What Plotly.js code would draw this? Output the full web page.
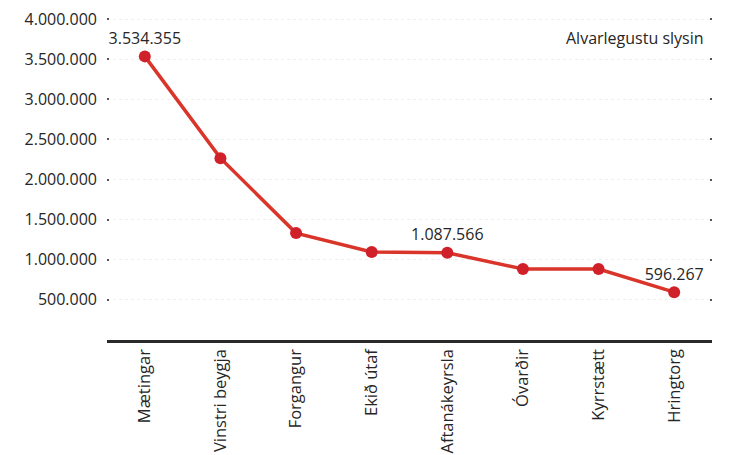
<!DOCTYPE html>
<html>
<head>
<meta charset="utf-8">
<script src="https://cdn.plot.ly/plotly-3.0.1.min.js"></script>
<style>html,body{margin:0;padding:0;background:#fff;}#chart{width:735px;height:455px;}</style>
</head>
<body>
<div id="chart"></div>
<script>
const categories = ["Mætingar", "Vinstri beygja", "Forgangur", "Ekið útaf", "Aftanákeyrsla", "Óvarðir", "Kyrrstætt", "Hringtorg"];
const values = [3534355, 2266000, 1332000, 1096000, 1087566, 884000, 884000, 596267];
const pointLabels = ["3.534.355", "", "", "", "1.087.566", "", "", "596.267"];
const yTicks = [500000, 1000000, 1500000, 2000000, 2500000, 3000000, 3500000, 4000000];
const chartTitle = "Alvarlegustu slysin";

const font = "Open Sans, Noto Sans, sans-serif";
const textColor = "#262626";

const trace = {
  x: categories,
  y: values,
  type: "scatter",
  mode: "lines+markers+text",
  text: pointLabels,
  textposition: "top center",
  textfont: {family: font, size: 16, color: textColor},
  line: {color: "#d9352a", width: 3.5},
  marker: {color: "#d0202a", size: 12},
  cliponaxis: false,
  hoverinfo: "none"
};

const layout = {
  width: 735, height: 455,
  margin: {l: 107, r: 23, t: 15, b: 115},
  paper_bgcolor: "#fff", plot_bgcolor: "#fff",
  separators: ",.",
  showlegend: false,
  font: {family: font, color: textColor},
  xaxis: {
    type: "category",
    range: [-0.5, 7.5],
    tickangle: -90,
    tickfont: {family: font, size: 16.5, color: textColor},
    showline: true, linecolor: "#2a2a2a", linewidth: 2.5,
    ticks: "", showgrid: false, zeroline: false,
    fixedrange: true
  },
  yaxis: {
    range: [0, 4050000],
    tickvals: yTicks,
    tickformat: ",d",
    tickfont: {family: font, size: 16, color: textColor},
    ticks: "inside", ticklen: 2, tickwidth: 2, tickcolor: "#555",
    mirror: "ticks",
    showline: false,
    showgrid: true, gridcolor: "#efefef", griddash: "dot", gridwidth: 1,
    zeroline: false,
    ticklabelstandoff: 9,
    fixedrange: true
  },
  annotations: [{
    text: chartTitle,
    xref: "paper", yref: "paper",
    x: 0.99, y: 0.93, xanchor: "right", yanchor: "middle",
    showarrow: false,
    font: {family: font, size: 16, color: textColor}
  }]
};

Plotly.newPlot("chart", [trace], layout, {displayModeBar: false, staticPlot: true});
</script>
</body>
</html>
